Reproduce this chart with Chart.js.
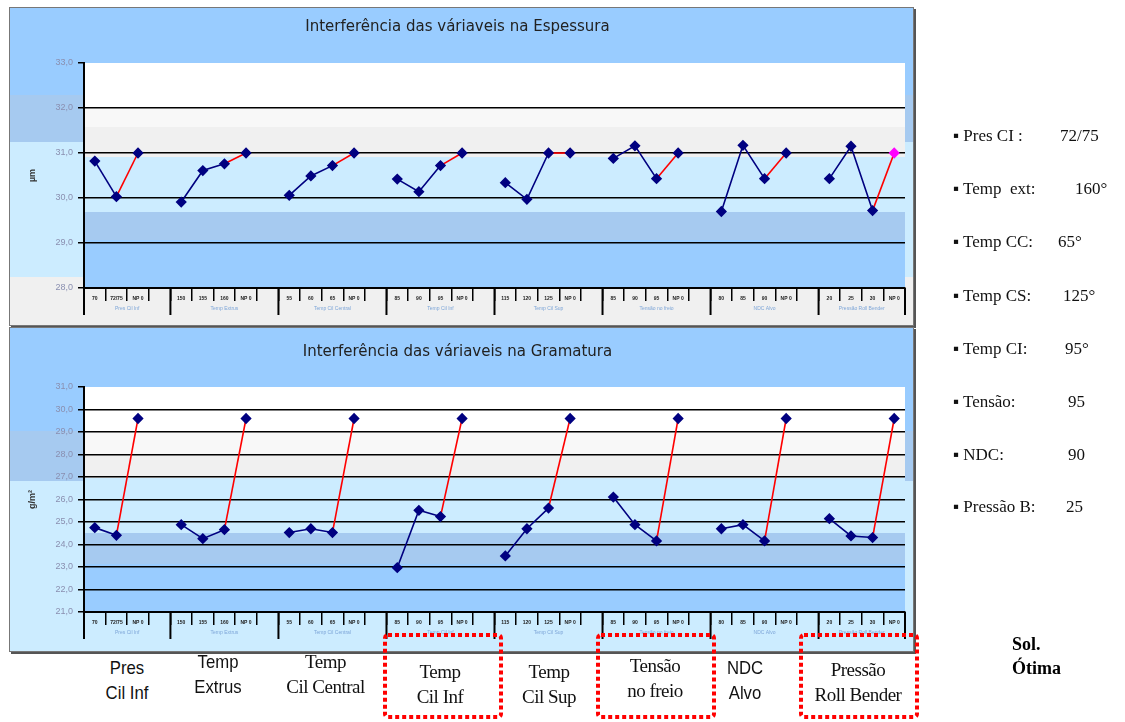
<!DOCTYPE html>
<html>
<head>
<meta charset="utf-8">
<script src="https://cdn.jsdelivr.net/npm/chart.js@4.4.0/dist/chart.umd.min.js"></script>
<style>
body { margin:0; background:#fff; width:1125px; height:722px; overflow:hidden; position:relative; font-family:"Liberation Serif", serif; }
.wrap { position:absolute; left:9px; border:1px solid #777; box-shadow:2px 2px 0 #555; }
canvas { display:block; }
.lbl { position:absolute; text-align:center; font-size:19px; line-height:25px; color:#111; letter-spacing:-0.5px; white-space:nowrap; }
.sans { font-family:"Liberation Sans Narrow","Liberation Sans",sans-serif; letter-spacing:0; transform:scaleX(0.88); }
.side { position:absolute; font-size:17px; color:#111; white-space:nowrap; }
.sol { position:absolute; left:1012px; top:632px; font-size:18px; font-weight:bold; line-height:24px; }
svg { position:absolute; left:0; top:0; }
</style>
</head>
<body>
<div class="wrap" style="top:7px"><canvas id="chartEsp" width="903" height="317"></canvas></div>
<div class="wrap" style="top:327px"><canvas id="chartGram" width="903" height="323"></canvas></div>

<div class="lbl sans" style="left:97px;top:655px;width:60px">Pres<br>Cil Inf</div>
<div class="lbl sans" style="left:183px;top:649px;width:70px">Temp<br>Extrus</div>
<div class="lbl" style="left:278px;top:649px;width:95px">Temp<br>Cil Central</div>
<div class="lbl" style="left:395px;top:659px;width:90px">Temp<br>Cil Inf</div>
<div class="lbl" style="left:509px;top:659px;width:80px">Temp<br>Cil Sup</div>
<div class="lbl" style="left:605px;top:653px;width:100px">Tensão<br>no freio</div>
<div class="lbl sans" style="left:715px;top:655px;width:60px">NDC<br>Alvo</div>
<div class="lbl" style="left:798px;top:657px;width:120px">Pressão<br>Roll Bender</div>

<svg width="1125" height="722">
  <rect x="385" y="635" width="116" height="82" rx="3" fill="none" stroke="#f00" stroke-width="4" stroke-dasharray="4,3"/>
  <rect x="598" y="635" width="116" height="82" rx="3" fill="none" stroke="#f00" stroke-width="4" stroke-dasharray="4,3"/>
  <rect x="801" y="635" width="116" height="82" rx="3" fill="none" stroke="#f00" stroke-width="4" stroke-dasharray="4,3"/>
</svg>

<div class="side" style="left:953px;top:126px">▪ Pres CI :</div><div class="side" style="left:1060px;top:126px">72/75</div>
<div class="side" style="left:953px;top:179px">▪ Temp &nbsp;ext:</div><div class="side" style="left:1075px;top:179px">160°</div>
<div class="side" style="left:953px;top:232px">▪ Temp CC:</div><div class="side" style="left:1058px;top:232px">65°</div>
<div class="side" style="left:953px;top:286px">▪ Temp CS:</div><div class="side" style="left:1063px;top:286px">125°</div>
<div class="side" style="left:953px;top:339px">▪ Temp CI:</div><div class="side" style="left:1065px;top:339px">95°</div>
<div class="side" style="left:953px;top:392px">▪ Tensão:</div><div class="side" style="left:1068px;top:392px">95</div>
<div class="side" style="left:953px;top:445px">▪ NDC:</div><div class="side" style="left:1068px;top:445px">90</div>
<div class="side" style="left:953px;top:497px">▪ Pressão B:</div><div class="side" style="left:1066px;top:497px">25</div>
<div class="sol">Sol.<br>Ótima</div>

<script>
// categories: 8 variables, each with its tested levels plus an empty spacer slot
const groupNames = ['Pres Cil Inf', 'Temp Extrus', 'Temp Cil Central', 'Temp Cil Inf', 'Temp Cil Sup', 'Tensão no freio', 'NDC Alvo', 'Pressão Roll Bender'];
const groupSizes = [4, 5, 5, 5, 5, 5, 5, 4];
const xLabels = [
    '70', '72/75', 'NP 0', '',
    '150', '155', '160', 'NP 0', '',
    '55', '60', '65', 'NP 0', '',
    '85', '90', '95', 'NP 0', '',
    '115', '120', '125', 'NP 0', '',
    '85', '90', '95', 'NP 0', '',
    '80', '85', '90', 'NP 0', '',
    '20', '25', '30', 'NP 0'
];

const espessura = [
    30.82, 30.03, 31.0, null,
    29.91, 30.61, 30.76, 31.0, null,
    30.06, 30.49, 30.72, 31.0, null,
    30.42, 30.14, 30.72, 31.0, null,
    30.34, 29.97, 31.0, 31.0, null,
    30.88, 31.16, 30.43, 31.0, null,
    29.70, 31.17, 30.43, 31.0, null,
    30.43, 31.15, 29.72, 31.0
];
const gramatura = [
    24.75, 24.41, 29.6, null,
    24.88, 24.26, 24.66, 29.6, null,
    24.53, 24.70, 24.53, 29.6, null,
    22.97, 25.52, 25.24, 29.6, null,
    23.49, 24.70, 25.62, 29.6, null,
    26.11, 24.88, 24.16, 29.6, null,
    24.70, 24.88, 24.16, 29.6, null,
    25.15, 24.38, 24.31, 29.6
];

const espTicks = [28, 33];
const gramTicks = [21, 31];

const bandsPlugin = {
    id: 'bands',
    beforeDraw(chart, args, opts) {
        const ctx = chart.ctx, a = chart.chartArea;
        ctx.save();
        opts.outer.forEach(b => {
            ctx.fillStyle = b[2];
            ctx.fillRect(0, b[0], chart.width, b[1] - b[0]);
        });
        opts.inner.forEach(b => {
            ctx.fillStyle = b[2];
            ctx.fillRect(a.left, a.top + b[0], a.right - a.left, b[1] - b[0]);
        });
        ctx.restore();
    }
};

const groupPlugin = {
    id: 'groups',
    afterDraw(chart) {
        const x = chart.scales.x, a = chart.chartArea, ctx = chart.ctx;
        const half = (x.getPixelForValue(1) - x.getPixelForValue(0)) / 2;
        ctx.save();
        ctx.strokeStyle = '#000';
        ctx.lineWidth = 2;
        ctx.font = '5px "Liberation Sans"';
        ctx.fillStyle = '#7ea6d8';
        ctx.textAlign = 'center';
        let start = 0;
        groupSizes.forEach((n, g) => {
            const left = x.getPixelForValue(start) - half;
            const right = x.getPixelForValue(start + n - 1) + half;
            ctx.beginPath();
            ctx.moveTo(left, a.bottom);
            ctx.lineTo(left, a.bottom + 27);
            ctx.stroke();
            ctx.fillText(groupNames[g], (left + right) / 2, a.bottom + 22);
            if (g === groupSizes.length - 1) {
                ctx.beginPath();
                ctx.moveTo(right, a.bottom);
                ctx.lineTo(right, a.bottom + 27);
                ctx.stroke();
            }
            start += n;
        });
        ctx.restore();
    }
};

function createChart(id, values, range, title, yTitle, titlePad, axisH, bands, pointColors) {
    const ctx = document.getElementById(id).getContext('2d');
    return new Chart(ctx, {
        type: 'line',
        data: {
            labels: xLabels,
            datasets: [{
                label: title,
                data: values,
                borderColor: '#000080',
                borderWidth: 1.6,
                spanGaps: false,
                pointStyle: 'rectRot',
                pointRadius: 4.5,
                pointBackgroundColor: pointColors,
                pointBorderColor: pointColors,
                segment: {
                    // last step of each group (to the optimum) is red
                    borderColor: c => values[c.p1DataIndex + 1] == null ? '#ff0000' : '#000080'
                }
            }]
        },
        options: {
            responsive: false,
            animation: false,
            layout: { padding: { right: 8 } },
            plugins: {
                legend: { display: false },
                tooltip: { enabled: false },
                title: {
                    display: true,
                    text: title,
                    color: '#222',
                    font: { family: 'DejaVu Sans', size: 15, weight: 'normal' },
                    padding: titlePad
                },
                bands: bands
            },
            scales: {
                x: {
                    offset: true,
                    grid: { offset: true, drawOnChartArea: false, color: '#000', lineWidth: 1.5, tickLength: 13 },
                    border: { display: true, color: '#000', width: 2 },
                    ticks: { autoSkip: false, maxRotation: 0, minRotation: 0, padding: -5, color: '#222', font: { size: 5, weight: 'bold' } },
                    afterFit: s => { s.height = axisH; }
                },
                y: {
                    min: range[0],
                    max: range[1],
                    ticks: {
                        stepSize: 1,
                        padding: 5,
                        color: '#8a8fb0',
                        font: { family: 'Liberation Sans', size: 9 },
                        callback: v => v.toFixed(1).replace('.', ',')
                    },
                    grid: {
                        color: c => c.tick.value === range[1] ? 'rgba(0,0,0,0)' : '#000',
                        tickColor: '#000',
                        lineWidth: 1.5,
                        tickLength: 6
                    },
                    border: { display: true, color: '#000', width: 2 },
                    title: {
                        display: true,
                        text: yTitle,
                        color: '#333',
                        font: { family: 'Liberation Sans', size: 9, weight: 'bold' },
                        padding: { top: 17, bottom: 0 }
                    },
                    afterFit: s => { s.width = 74; }
                }
            }
        },
        plugins: [bandsPlugin, groupPlugin]
    });
}

const espColors = espessura.map((v, i) => i === espessura.length - 1 ? '#ff00ff' : '#000080');
const gramColors = gramatura.map(() => '#000080');

createChart('chartEsp', espessura, espTicks, 'Interferência das váriaveis na Espessura', 'µm',
    { top: 10, bottom: 27 }, 37,
    {
        outer: [[0, 87, '#99ccff'], [87, 134, '#a6caf0'], [134, 269, '#ccecff'], [269, 317, '#f0f0f0']],
        inner: [[0, 45, '#ffffff'], [45, 64, '#f8f8f8'], [64, 94, '#f0f0f0'], [94, 149, '#ccecff'], [149, 177, '#a6caf0'], [177, 225, '#99ccff']]
    }, espColors);

createChart('chartGram', gramatura, gramTicks, 'Interferência das váriaveis na Gramatura', 'g/m²',
    { top: 15, bottom: 26 }, 39,
    {
        outer: [[0, 103, '#99ccff'], [103, 153, '#a6caf0'], [153, 323, '#ccecff']],
        inner: [[0, 44, '#ffffff'], [44, 67, '#f8f8f8'], [67, 91, '#f0f0f0'], [91, 146, '#ccecff'], [146, 177, '#a6caf0'], [177, 225, '#99ccff']]
    }, gramColors);
</script>
</body>
</html>
